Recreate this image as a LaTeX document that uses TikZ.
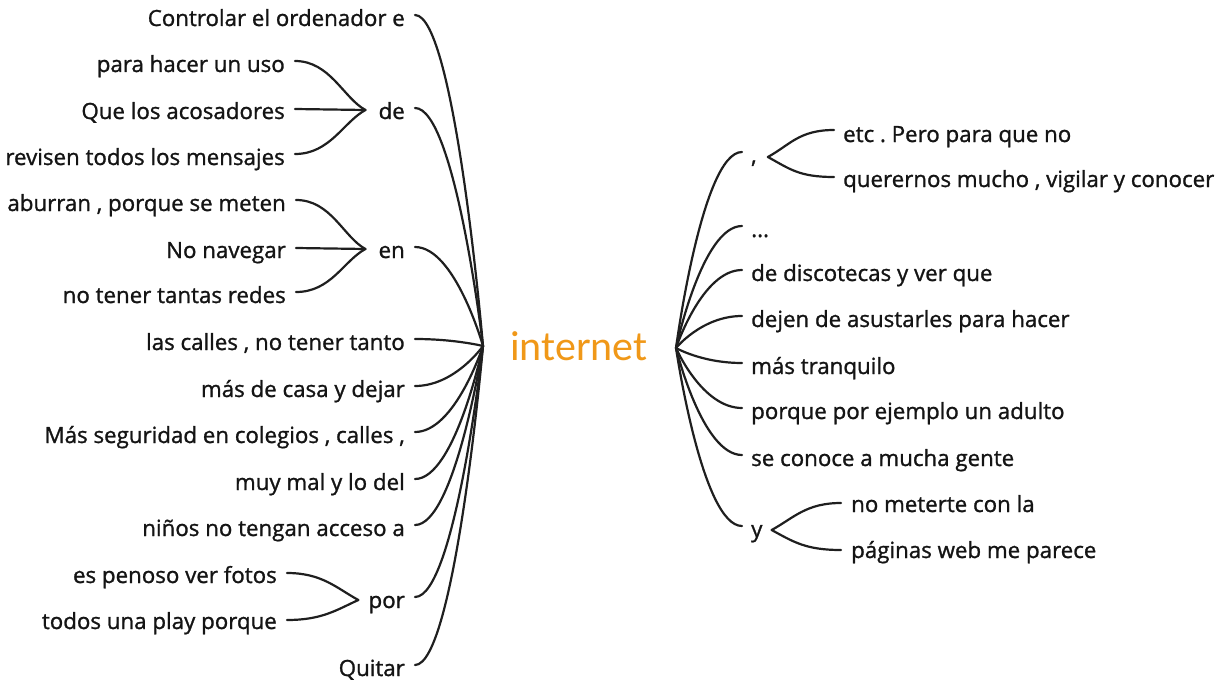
\documentclass[tikz,border=0pt]{standalone}
\usepackage{fontspec}
\setmainfont[FakeBold=1.2]{Open Sans}
\newfontfamily\hubfont{Carlito}
\definecolor{hubor}{RGB}{240,152,24}
\begin{document}
\frenchspacing
\begin{tikzpicture}[x=1pt,y=-1pt,
  txt/.style={font=\fontsize{22.3}{25}\selectfont, inner sep=0pt, text height=15pt, text depth=5pt, text=black!92},
  br/.style={draw=black!88, line width=2.2pt, line cap=round},
  hubtxt/.style={font=\hubfont\fontsize{42}{46}\selectfont, text=hubor, inner sep=0pt}
]
\useasboundingbox (0,0) rectangle (1219,685);

% centre
\node[hubtxt] (hub) at (579,346) {internet};
\coordinate (hubL) at (483,346);
\coordinate (hubR) at (676,348);

% left main
\node[txt, anchor=east] (L1) at (405,21) {Controlar el ordenador e};
\node[txt, anchor=east] (Lde) at (405,114) {de};
\node[txt, anchor=east] (Len) at (405,253) {en};
\node[txt, anchor=east] (L4) at (405,345) {las calles , no tener tanto};
\node[txt, anchor=east] (L5) at (405,392) {más de casa y dejar};
\node[txt, anchor=east] (L6) at (405,438) {Más seguridad en colegios , calles ,};
\node[txt, anchor=east] (L7) at (405,485) {muy mal y lo del};
\node[txt, anchor=east] (L8) at (405,531) {niños no tengan acceso a};
\node[txt, anchor=east] (Lpor) at (405,603) {por};
\node[txt, anchor=east] (L10) at (405,671) {Quitar};

% left sub
\node[txt, anchor=east] (S1) at (285,67) {para hacer un uso};
\node[txt, anchor=east] (S2) at (285,114) {Que los acosadores};
\node[txt, anchor=east] (S3) at (285,160) {revisen todos los mensajes};
\node[txt, anchor=east] (S4) at (286,206) {aburran , porque se meten};
\node[txt, anchor=east] (S5) at (286,253) {No navegar};
\node[txt, anchor=east] (S6) at (286,298) {no tener tantas redes};
\node[txt, anchor=east] (S7) at (277,578) {es penoso ver fotos};
\node[txt, anchor=east] (S8) at (277,624) {todos una play porque};

% right main
\node[txt, anchor=west] (Rcom) at (751,158) {,};
\node[txt, anchor=west] (Rdots) at (751,232) {...};
\node[txt, anchor=west] (R3) at (751,276) {de discotecas y ver que};
\node[txt, anchor=west] (R4) at (751,322) {dejen de asustarles para hacer};
\node[txt, anchor=west] (R5) at (751,369) {más tranquilo};
\node[txt, anchor=west] (R6) at (751,414) {porque por ejemplo un adulto};
\node[txt, anchor=west] (R7) at (751,461) {se conoce a mucha gente};
\node[txt, anchor=west] (Ry) at (751,532) {y};

% right sub
\node[txt, anchor=west] (T1) at (843,137) {etc . Pero para que no};
\node[txt, anchor=west] (T2) at (843,182) {querernos mucho , vigilar y conocer};
\node[txt, anchor=west] (T3) at (851,507) {no meterte con la};
\node[txt, anchor=west] (T4) at (851,553) {páginas web me parece};

% joins
\coordinate (jde) at ([shift={(-13,-4)}]Lde.west);
\coordinate (jen) at ([shift={(-13,-4)}]Len.west);
\coordinate (jpor) at ([shift={(-10,-3)}]Lpor.west);
\coordinate (jcom) at ([shift={(11,-1)}]Rcom.east);
\coordinate (jy) at ([shift={(9,-2)}]Ry.east);

% left main connectors
\foreach \n in {L1,Lde,Len,L4,L5,L6,L7,L8,Lpor,L10}{
  \draw[br] ([shift={(10,-6)}]\n.east) .. controls +(40,0) and (hubL) .. (hubL);
}
% right main connectors
\foreach \n in {Rcom,Rdots,R3,R4,R5,R6,R7,Ry}{
  \draw[br] (hubR) .. controls (hubR) and +(-40,0) .. ([shift={(-9,-6)}]\n.west);
}
% left sub connectors
\draw[br] ([shift={(10,-6)}]S1.east) .. controls +(35,0) and +(-22,-12) .. (jde);
\draw[br] ([shift={(10,-5)}]S2.east) -- (jde);
\draw[br] ([shift={(10,-6)}]S3.east) .. controls +(35,0) and +(-22,12) .. (jde);
\draw[br] ([shift={(10,-6)}]S4.east) .. controls +(35,0) and +(-22,-12) .. (jen);
\draw[br] ([shift={(10,-5)}]S5.east) -- (jen);
\draw[br] ([shift={(10,-6)}]S6.east) .. controls +(35,0) and +(-22,12) .. (jen);
\draw[br] ([shift={(10,-5)}]S7.east) .. controls +(35,0) and +(-22,-12) .. (jpor);
\draw[br] ([shift={(10,-4)}]S8.east) .. controls +(35,0) and +(-22,10) .. (jpor);
% right sub connectors
\draw[br] (jcom) .. controls +(22,-12) and +(-35,0) .. ([shift={(-9,-7)}]T1.west);
\draw[br] (jcom) .. controls +(22,12) and +(-35,0) .. ([shift={(-9,-5)}]T2.west);
\draw[br] (jy) .. controls +(22,-12) and +(-35,0) .. ([shift={(-10,-4)}]T3.west);
\draw[br] (jy) .. controls +(22,12) and +(-35,0) .. ([shift={(-10,-3)}]T4.west);
\end{tikzpicture}
\end{document}
